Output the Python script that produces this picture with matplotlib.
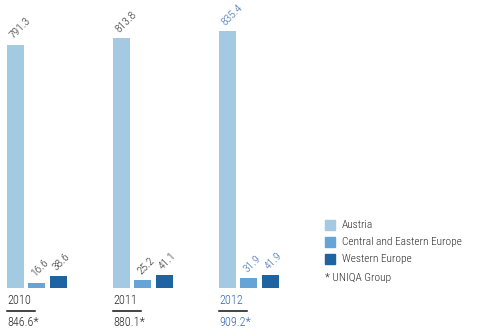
import matplotlib
matplotlib.use("Agg")
import matplotlib.pyplot as plt
from matplotlib.patches import Rectangle
from matplotlib.lines import Line2D

years = ["2010", "2011", "2012"]
totals = ["846.6*", "880.1*", "909.2*"]
austria = [791.3, 813.8, 835.4]
cee = [16.6, 25.2, 31.9]
western = [38.6, 41.1, 41.9]
value_labels = [["791.3", "16.6", "38.6"], ["813.8", "25.2", "41.1"], ["835.4", "31.9", "41.9"]]
series_names = ["Austria", "Central and Eastern Europe", "Western Europe"]
footnote = "* UNIQA Group"

colors = ["#a3c9e3", "#65a4d5", "#1f63a1"]
text_dark = "#2a2a2a"
text_blue = "#3568ad"

plt.rcParams["font.family"] = ["Roboto Condensed", "DejaVu Sans"]
plt.rcParams["font.weight"] = "light"

W, H, DPI = 480, 336, 100
fig = plt.figure(figsize=(W / DPI, H / DPI), dpi=DPI)
base_px = 288
ax = fig.add_axes([0, (H - base_px) / H, 1, base_px / H])
group_px = 106.0
left_px = 7.0
ax.set_xlim(-left_px / group_px, (W - left_px) / group_px)
ax.set_ylim(0, base_px / 0.3072)
ax.axis("off")

bar_w = 17 / group_px
offsets = [0, 21.3 / group_px, 43 / group_px]
series = [austria, cee, western]
px = 0.72  # points per pixel

for i in range(len(years)):
    tcol = text_blue if i == 2 else text_dark
    for s, vals in enumerate(series):
        x0 = i + offsets[s]
        ax.bar(x0, vals[i], width=bar_w, align="edge", color=colors[s], clip_on=False)
        ax.annotate(value_labels[i][s], xy=(x0, vals[i]), xytext=(8 * px, 4 * px),
                    textcoords="offset points", rotation=45, rotation_mode="anchor",
                    ha="left", va="bottom", fontsize=8.2, color=tcol, annotation_clip=False)
    ax.annotate(years[i], xy=(i, 0), xytext=(0, -13 * px), textcoords="offset points",
                ha="left", va="center", fontsize=8.7, color=tcol, annotation_clip=False)
    ax.annotate(totals[i], xy=(i, 0), xytext=(0, -34 * px), textcoords="offset points",
                ha="left", va="center", fontsize=8.7, color=tcol, annotation_clip=False)
    # underline between year and total
    x_left = i
    x_right = i + 28 / group_px
    y_line = -23 / 0.3072
    ax.add_line(Line2D([x_left, x_right], [y_line, y_line], color="#111111", lw=1.1, clip_on=False))

# legend
for k, name in enumerate(series_names):
    y_top = 220 + 17 * k
    fig.patches.append(Rectangle((325 / W, 1 - (y_top + 10) / H), 10 / W, 10 / H,
                                 transform=fig.transFigure, color=colors[k]))
    fig.text(342 / W, 1 - (y_top + 5) / H, name, fontsize=8.2, color=text_dark, va="center", ha="left")
fig.text(325 / W, 1 - 278 / H, footnote, fontsize=8.2, color=text_dark, va="center", ha="left")

fig.savefig("out.png", dpi=DPI)
